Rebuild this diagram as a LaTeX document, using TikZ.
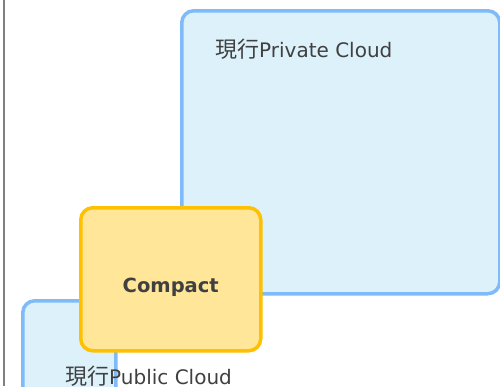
\documentclass[tikz,border=0pt]{standalone}
\usepackage{fontspec}
\setmainfont{DejaVu Sans}
\newfontfamily\cjk{Noto Sans CJK JP}[Scale=1.1]
\usetikzlibrary{positioning}

\begin{document}
\begin{tikzpicture}[
  x=1pt, y=-1pt,
  cloud/.style={
    draw=cloudline,
    fill=cloudfill,
    line width=3.5pt,
    rounded corners=12pt,
    anchor=north west
  },
  compactbox/.style={
    draw=compactline,
    fill=compactfill,
    line width=3.5pt,
    rounded corners=12pt,
    anchor=north west
  },
  label/.style={
    text=labeltext,
    font=\fontsize{20}{24}\selectfont,
    inner sep=0pt
  }
]
\definecolor{cloudline}{HTML}{7FBAF9}
\definecolor{cloudfill}{HTML}{DCF1FA}
\definecolor{compactline}{HTML}{FFC000}
\definecolor{compactfill}{HTML}{FFE699}
\definecolor{labeltext}{HTML}{404040}

\useasboundingbox (0,0) rectangle (500,386);
\clip (0,0) rectangle (500,386);

% Left rule
\coordinate (ruletop) at (4,0);
\coordinate (rulebot) at (4,386);
\draw[gray, line width=1.5pt] (ruletop) -- (rulebot);

% Nodes
\node[cloud, minimum width=318pt, minimum height=283pt] (private) at (180,9) {};
\node[cloud, minimum width=93pt, minimum height=110pt] (public) at (21,299) {};
\node[compactbox, minimum width=180pt, minimum height=143pt] (compact) at (79,206) {};

% Labels
\node[label, anchor=base west] (privatelabel) at (215,57) {{\cjk 現行}Private Cloud};
\node[label, anchor=base west] (publiclabel) at (65,384) {{\cjk 現行}Public Cloud};
\node[label, anchor=base, font=\bfseries\fontsize{19.5}{23}\selectfont] (compactlabel) at (compact.center |- 0,292) {Compact};

\end{tikzpicture}
\end{document}
